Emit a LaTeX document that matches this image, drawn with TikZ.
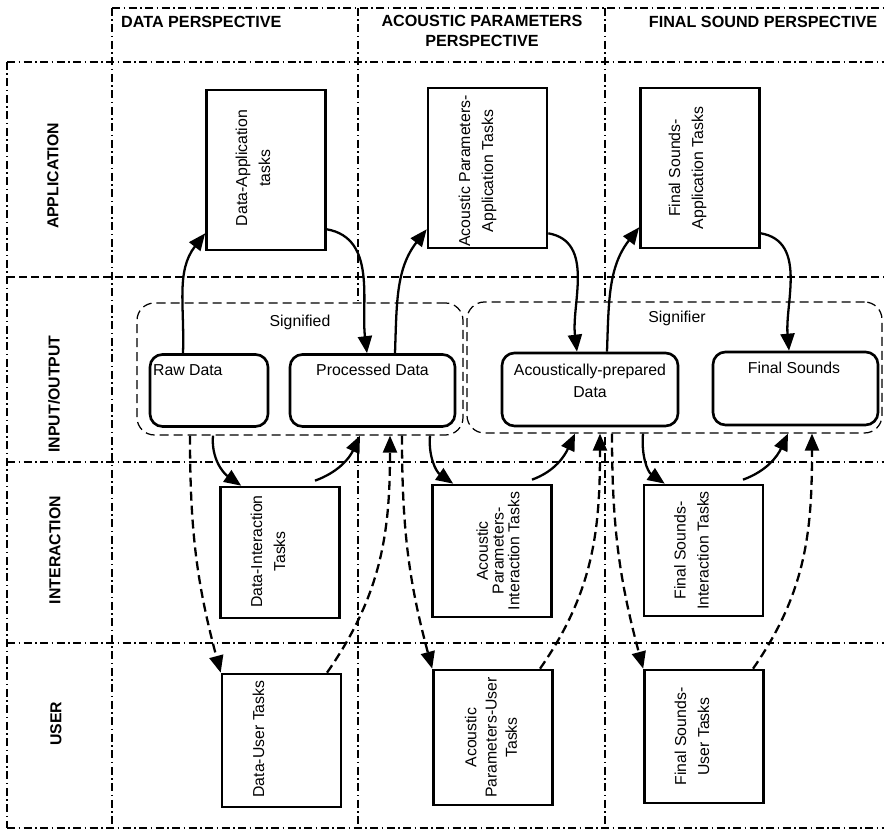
\documentclass[tikz,border=0pt]{standalone}
\usepackage{fontspec}
\setmainfont{Liberation Sans}
\usetikzlibrary{arrows.meta,calc}

\tikzset{
  gridline/.style={line width=0.7pt,dash pattern=on 1.6mm off 0.7mm on 0.3mm off 0.7mm},
  rowline/.style={line width=0.7pt,dash pattern=on 1.6mm off 0.8mm},
  headlabel/.style={font=\fontsize{9.2}{11}\selectfont\bfseries,align=center},
  rowlabel/.style={font=\fontsize{9}{11}\selectfont\bfseries,rotate=90},
  taskbox/.style={draw,fill=white,line width=1.5pt,inner sep=0pt,minimum width=23.8mm},
  tasktext/.style={font=\fontsize{9}{13}\selectfont,rotate=90,align=center},
  databox/.style={draw,fill=white,line width=1.5pt,rounded corners=2.5mm,inner sep=0pt,minimum height=14.4mm},
  groupbox/.style={draw,fill=white,line width=0.7pt,dash pattern=on 1.8mm off 1mm,rounded corners=3.5mm,inner sep=0pt},
  flow/.style={line width=1.3pt,-{Triangle[length=3.4mm,width=2.8mm]}},
  userflow/.style={flow,dash pattern=on 1.8mm off 1mm},
}

\begin{document}
\begin{tikzpicture}[x=0.2mm,y=0.2mm,font=\fontsize{9}{12.5}\selectfont]
  \useasboundingbox (0,0) rectangle (884,830);
  % perspectives (columns) and levels (rows)
  \draw[gridline] (112,822) -- (884,822);
  \draw[gridline] (7,768) -- (884,768);
  \draw[rowline] (7,553) -- (884,553);
  \foreach \y in {368,187,2}
    \draw[gridline] (7,\y) -- (884,\y);
  \draw[gridline] (7,768) -- (7,2);
  \foreach \x in {112,358,605}
    \draw[gridline] (\x,822) -- (\x,2);

  \node[headlabel,anchor=west] (hdata) at (115,808) {DATA PERSPECTIVE};
  \node[headlabel] (hacou) at (482,799) {ACOUSTIC PARAMETERS\\PERSPECTIVE};
  \node[headlabel] (hfinal) at (763,808) {FINAL SOUND PERSPECTIVE};

  \node[rowlabel] (lapp) at (53,654) {APPLICATION};
  \node[rowlabel] (lio) at (54,436) {INPUT/OUTPUT};
  \node[rowlabel] (lint) at (55,280) {INTERACTION};
  \node[rowlabel] (luser) at (56,106) {USER};

  % signified / signifier groups
  \node[groupbox,minimum width=65.2mm,minimum height=26.4mm] (signified) at (300,461) {};
  \node (signified-l) at (300,508) {Signified};
  \node[groupbox,minimum width=83mm,minimum height=26.2mm] (signifier) at (674.5,462.5) {};
  \node (signifier-l) at (677,512) {Signifier};

  % input/output data
  \node[databox,minimum width=23.6mm] (rawdata) at (209,439.5) {};
  \node[anchor=west,inner sep=1pt] (rawdata-l) at (151,460) {Raw Data};
  \node[databox,minimum width=33mm] (procdata) at (372.5,439.5) {};
  \node (procdata-l) at (372.5,460) {Processed Data};
  \node[databox,minimum width=35.2mm,minimum height=14.6mm] (acdata) at (590,440.5) {};
  \node[align=center] (acdata-l) at (590,449) {Acoustically-prepared\\Data};
  \node[databox,minimum width=33mm,minimum height=14.6mm] (finsounds) at (795.5,441.5) {};
  \node (finsounds-l) at (794,462) {Final Sounds};

  % tasks
  \node[taskbox,minimum height=32mm] (dataapp) at (266,660) {};
  \node[tasktext] (dataapp-l) at ($(dataapp)+(-13,2)$) {Data-Application\\tasks};
  \node[taskbox,minimum height=32mm] (acapp) at (487.5,662) {};
  \node[tasktext] (acapp-l) at ($(acapp)+(-10,-3)$) {Acoustic Parameters-\\Application Tasks};
  \node[taskbox,minimum height=32mm] (finapp) at (700,662) {};
  \node[tasktext] (finapp-l) at ($(finapp)+(-12.5,0)$) {Final Sounds-\\Application Tasks};

  \node[taskbox,minimum height=26.2mm] (dataint) at (280,277.5) {};
  \node[tasktext] (dataint-l) at ($(dataint)+(-12,1)$) {Data-Interaction\\Tasks};
  \node[taskbox,minimum height=26.4mm] (acint) at (492,279) {};
  \node[tasktext,font=\fontsize{9}{9}\selectfont] (acint-l) at ($(acint)+(6,0)$) {Acoustic\\Parameters-\\Interaction Tasks};
  \node[taskbox,minimum height=26.2mm] (finint) at (703.5,279.5) {};
  \node[tasktext] (finint-l) at ($(finint)+(-12,0)$) {Final Sounds-\\Interaction Tasks};

  \node[taskbox,minimum height=26.6mm] (datauser) at (281.5,89.5) {};
  \node[tasktext] (datauser-l) at ($(datauser)+(-23,1.5)$) {Data-User Tasks};
  \node[taskbox,minimum height=27mm] (acuser) at (493,92.5) {};
  \node[tasktext,font=\fontsize{9}{11.5}\selectfont] (acuser-l) at ($(acuser)+(-2,0)$) {Acoustic\\Parameters-User\\Tasks};
  \node[taskbox,minimum height=26.6mm] (finuser) at (704,93.5) {};
  \node[tasktext] (finuser-l) at ($(finuser)+(-12,0)$) {Final Sounds-\\User Tasks};

  % application level
  \draw[flow] ($(rawdata.north)+(-26,0)$) to[out=88,in=232] ($(dataapp.south west)+(0,18)$);
  \draw[flow] ($(dataapp.south east)+(0,22)$) to[out=-10,in=97] ($(procdata.north)+(-5.5,0)$);
  \draw[flow] ($(procdata.north)+(22.5,0)$) to[out=88,in=232] ($(acapp.south west)+(0,20)$);
  \draw[flow] ($(acapp.south east)+(0,16)$) to[out=-10,in=97] ($(acdata.north)+(-13,0)$);
  \draw[flow] ($(acdata.north)+(17,0)$) to[out=88,in=232] ($(finapp.south west)+(0,22)$);
  \draw[flow] ($(finapp.south east)+(0,16)$) to[out=-10,in=95] ($(finsounds.north)+(-6.5,0)$);

  % interaction level
  \draw[flow] ($(signified.south)+(-87,0)$) to[out=-95,in=145] ($(dataint.north west)+(22,0)$);
  \draw[flow] ($(dataint.north)+(35,5)$) to[out=20,in=-115] ($(signified.south)+(60,0)$);
  \draw[flow] ($(signified.south)+(130,0)$) to[out=-95,in=145] ($(acint.north west)+(22,0)$);
  \draw[flow] ($(acint.north)+(40,4)$) to[out=20,in=-115] ($(signifier.south)+(-99.5,0)$);
  \draw[flow] ($(signifier.south)+(-31.5,0)$) to[out=-95,in=145] ($(finint.north west)+(22,0)$);
  \draw[flow] ($(finint.north)+(39.5,4)$) to[out=20,in=-115] ($(signifier.south)+(113.5,0)$);

  % user level
  \draw[userflow] ($(signified.south)+(-110,0)$) to[out=-90,in=105] (datauser.north west);
  \draw[userflow] ($(datauser.north)+(45.5,0)$) to[out=55,in=-90] ($(signified.south)+(90,0)$);
  \draw[userflow] ($(signified.south)+(102,0)$) to[out=-90,in=105] (acuser.north west);
  \draw[userflow] ($(acuser.north)+(47,0)$) to[out=55,in=-90] ($(signifier.south)+(-74.5,0)$);
  \draw[userflow] ($(signifier.south)+(-62.5,0)$) to[out=-90,in=105] (finuser.north west);
  \draw[userflow] ($(finuser.north)+(49,0)$) to[out=55,in=-90] ($(signifier.south)+(137.5,0)$);
\end{tikzpicture}
\end{document}
